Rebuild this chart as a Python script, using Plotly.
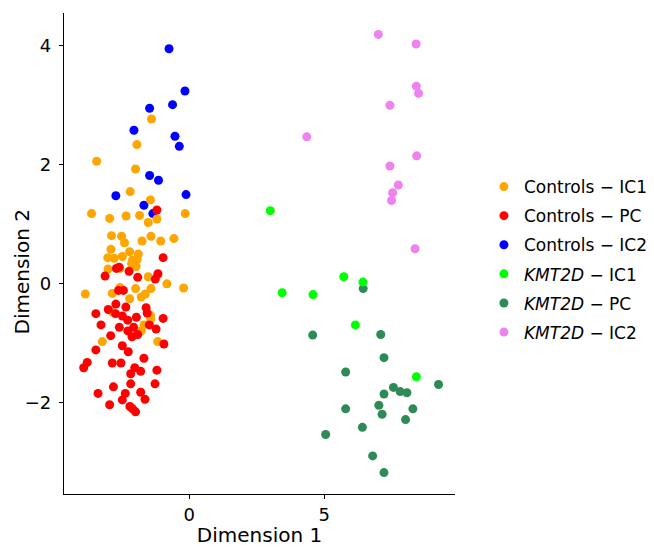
import plotly.graph_objects as go

# ---- data ----
ctrl_ic1_x = [-1.40, -1.94, -3.43, -1.99, -2.19, -1.44, -3.62, -2.95, -2.34, -1.84, -1.52, -1.20, -0.15,
              -2.88, -2.51, -2.40, -1.75, -1.42, -1.06, -0.57, -2.90, -2.21, -1.89, -3.02, -2.78, -2.48,
              -2.10, -1.93, -2.14, -1.97, -3.01, -2.57, -1.52, -1.17, -0.83, -0.21, -3.85, -2.57, -1.99,
              -2.85, -1.42, -1.78, -1.63, -2.21, -1.44, -1.68, -1.78, -3.22, -1.17, -2.84, -1.43]
ctrl_ic1_y = [2.77, 2.34, 2.06, 1.93, 1.55, 1.41, 1.18, 1.10, 1.14, 1.15, 1.03, 1.09, 1.18,
              0.81, 0.80, 0.69, 0.72, 0.80, 0.72, 0.76, 0.58, 0.54, 0.50, 0.44, 0.43, 0.46,
              0.40, 0.41, 0.34, 0.29, 0.25, 0.26, 0.12, 0.15, 0.00, -0.07, -0.17, -0.06, -0.08,
              -0.16, -0.08, -0.22, -0.17, -0.25, -0.53, -0.69, -0.79, -0.97, -0.97, -0.48, -0.59]

ctrl_pc_x = [-1.20, -0.97, -2.70, -2.60, -2.23, -3.12, -1.91, -1.26, -1.16, -2.62, -2.44, -2.72, -2.35,
             -3.00, -1.60, -1.56, -3.46, -2.73, -2.48, -2.28, -1.96, -0.97, -3.27, -2.59, -2.06, -2.28,
             -1.48, -1.23, -1.91, -2.12, -2.91, -0.94, -2.48, -2.26, -3.46, -1.68, -3.78, -3.91, -2.85,
             -2.53, -2.02, -2.17, -1.80, -1.20, -2.17, -2.81, -1.27, -3.38, -2.37, -1.80, -2.48, -1.64,
             -2.95, -2.20, -1.99, -2.10]
ctrl_pc_y = [1.24, 0.44, 0.26, 0.28, 0.21, 0.13, 0.11, 0.08, 0.17, -0.11, -0.11, -0.34, -0.39,
             -0.43, -0.40, -0.49, -0.50, -0.50, -0.54, -0.61, -0.56, -0.58, -0.69, -0.73, -0.73, -0.79,
             -0.69, -0.76, -0.85, -0.89, -0.87, -1.01, -1.04, -1.14, -1.11, -1.25, -1.32, -1.41, -1.33,
             -1.33, -1.41, -1.51, -1.47, -1.45, -1.68, -1.73, -1.68, -1.84, -1.84, -1.82, -1.95, -1.94,
             -2.03, -2.06, -2.15, -2.10]

ctrl_ic2_x = [-0.75, -0.16, -0.62, -1.47, -2.05, -0.53, -0.37, -1.47, -1.14, -2.72, -0.12, -1.68, -1.35]
ctrl_ic2_y = [3.95, 3.24, 3.01, 2.95, 2.58, 2.48, 2.31, 1.82, 1.74, 1.48, 1.50, 1.32, 1.18]

kmt_ic1_x = [3.00, 5.72, 6.43, 3.44, 4.58, 6.15, 8.41]
kmt_ic1_y = [1.23, 0.12, 0.03, -0.15, -0.18, -0.69, -1.56]

kmt_pc_x = [6.44, 4.57, 7.09, 7.21, 5.79, 9.23, 7.56, 7.81, 8.06, 7.21, 7.02, 8.28, 5.79, 7.14,
            8.01, 6.41, 5.05, 6.79, 7.21]
kmt_pc_y = [-0.08, -0.86, -0.85, -1.24, -1.48, -1.69, -1.74, -1.81, -1.83, -1.85, -2.04, -2.10, -2.10,
            -2.19, -2.28, -2.41, -2.53, -2.89, -3.17]

kmt_ic2_x = [7.00, 8.40, 8.41, 8.49, 7.43, 4.35, 8.42, 7.43, 7.74, 7.53, 7.49, 8.36]
kmt_ic2_y = [4.19, 4.03, 3.32, 3.20, 3.00, 2.47, 2.15, 1.98, 1.66, 1.53, 1.40, 0.59]

x_ticks = [0, 5]
y_ticks = [-2, 0, 2, 4]
x_title = "Dimension 1"
y_title = "Dimension 2"

series = [
    ("Controls \u2212 IC1", ctrl_ic1_x, ctrl_ic1_y, "#FFA500", 1),
    ("Controls \u2212 PC", ctrl_pc_x, ctrl_pc_y, "#FF0000", 2),
    ("Controls \u2212 IC2", ctrl_ic2_x, ctrl_ic2_y, "#0000FF", 3),
    ("<i>KMT2D</i> \u2212 IC1", kmt_ic1_x, kmt_ic1_y, "#00FF00", 4),
    ("<i>KMT2D</i> \u2212 PC", kmt_pc_x, kmt_pc_y, "#2E8B57", 5),
    ("<i>KMT2D</i> \u2212 IC2", kmt_ic2_x, kmt_ic2_y, "#EE82EE", 6),
]
draw_order = [2, 0, 1, 4, 3, 5]

fig = go.Figure()
for i in draw_order:
    name, xs, ys, col, rank = series[i]
    fig.add_trace(go.Scatter(
        x=xs, y=ys, mode="markers", name=name,
        marker=dict(color=col, size=9, line=dict(width=0)),
        legendrank=rank, legendgroup=str(rank),
    ))

FONT = "DejaVu Sans"
fig.update_layout(
    width=654, height=547,
    margin=dict(l=64, r=199, t=13, b=53, autoexpand=False),
    paper_bgcolor="white", plot_bgcolor="white",
    font=dict(family=FONT, color="black"),
    legend=dict(
        x=1.074, xanchor="left", y=0.4875, yanchor="middle",
        font=dict(size=17, family=FONT, color="black"),
        tracegroupgap=4, bgcolor="rgba(0,0,0,0)",
    ),
    xaxis=dict(
        range=[-4.64, 9.84], tickvals=x_ticks, showgrid=False, zeroline=False,
        showline=True, linecolor="black", linewidth=1.3, automargin=False,
        ticks="outside", ticklen=4, tickcolor="black", tickwidth=1.3,
        tickfont=dict(size=18, family=FONT, color="black"),
        title=dict(text=x_title, font=dict(size=20, family=FONT, color="black"), standoff=9),
    ),
    yaxis=dict(
        range=[-3.53, 4.55], tickvals=y_ticks, showgrid=False, zeroline=False,
        showline=True, linecolor="black", linewidth=1.3, automargin=False,
        ticks="outside", ticklen=4, tickcolor="black", tickwidth=1.3,
        tickfont=dict(size=18, family=FONT, color="black"),
        ticklabelstandoff=4,
    ),
    annotations=[dict(
        text=y_title, textangle=-90, showarrow=False,
        xref="paper", yref="paper", x=-0.1049, y=0.4626,
        xanchor="center", yanchor="middle",
        font=dict(size=20, family=FONT, color="black"),
    )],
)

fig.write_html(
    "out.html",
    config={"displayModeBar": False},
    post_script="document.body.style.margin='0';document.body.style.padding='0';",
)
